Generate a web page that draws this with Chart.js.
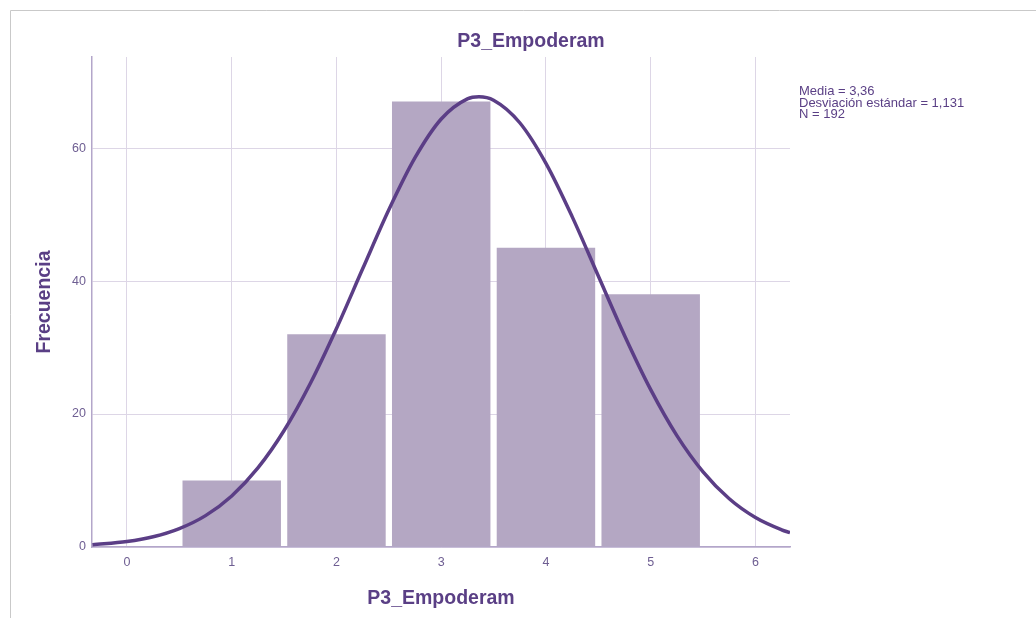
<!DOCTYPE html>
<html>
<head>
<meta charset="utf-8">
<script src="https://cdn.jsdelivr.net/npm/chart.js@4"></script>
<style>
  html, body { margin: 0; padding: 0; background: #fff; }
  #wrap { width: 1036px; height: 618px; position: relative; }
</style>
</head>
<body>
<div id="wrap"><canvas id="chart" width="1036" height="618"></canvas></div>
<script>
// histogram bins (P3_Empoderam values) and counts
const binCenters = [1, 2, 3, 4, 5];
const counts = [10, 32, 67, 45, 38];

// normal curve (Media 3,36 / DE 1,131 / N 192)
const curveX = [-0.33, 0, 0.25, 0.5, 0.75, 1, 1.25, 1.5, 1.75, 2, 2.25, 2.5, 2.75, 3, 3.25, 3.36,
  3.5, 3.75, 4, 4.25, 4.5, 4.75, 5, 5.25, 5.5, 5.75, 6, 6.25, 6.33];
const curveY = [0.33, 0.82, 1.54, 2.77, 4.72, 7.68, 11.89, 17.52, 24.59, 32.86, 41.84, 50.72, 58.55, 64.37, 67.40, 67.72,
  67.20, 63.81, 57.70, 49.69, 40.75, 31.82, 23.67, 16.76, 11.31, 7.26, 4.44, 2.59, 2.15];

const statsLines = ['Media = 3,36', 'Desviación estándar = 1,131', 'N = 192'];
const titleText = 'P3_Empoderam';

const purple = '#5a3f85';
const tickColor = '#6e5e92';
const font = 'Liberation Sans, Arial, sans-serif';

const extras = {
  id: 'extras',
  beforeDraw(chart) {
    const { ctx } = chart;
    ctx.save();
    ctx.strokeStyle = '#c9c9c9';
    ctx.lineWidth = 1;
    ctx.beginPath();
    ctx.moveTo(10.5, 618);
    ctx.lineTo(10.5, 10.5);
    ctx.lineTo(1036, 10.5);
    ctx.stroke();
    ctx.restore();
  },
  afterDraw(chart) {
    const { ctx } = chart;
    ctx.save();
    ctx.fillStyle = purple;
    ctx.textAlign = 'center';
    ctx.textBaseline = 'middle';
    ctx.font = 'bold 19.5px ' + font;
    ctx.fillText(titleText, 531, 42);

    ctx.textAlign = 'left';
    ctx.textBaseline = 'alphabetic';
    ctx.font = '13px ' + font;
    statsLines.forEach((t, i) => ctx.fillText(t, 799, 95 + i * 11.5));
    ctx.restore();
  },
};

const ctx = document.getElementById('chart');
new Chart(ctx, {
  type: 'bar',
  data: {
    datasets: [
      {
        type: 'line',
        data: curveX.map((x, i) => ({ x, y: curveY[i] })),
        borderColor: '#5b3e86',
        borderWidth: 3.5,
        pointRadius: 0,
        cubicInterpolationMode: 'monotone',
        fill: false,
        order: 0,
      },
      {
        type: 'bar',
        data: binCenters.map((x, i) => ({ x, y: counts[i] })),
        backgroundColor: '#b4a7c3',
        borderWidth: 0,
        barPercentage: 0.94,
        categoryPercentage: 1,
        order: 1,
      },
    ],
  },
  options: {
    responsive: false,
    animation: false,
    layout: {
      padding: { top: 57, right: 246, left: 0, bottom: 0 },
    },
    scales: {
      x: {
        type: 'linear',
        min: -0.334,
        max: 6.33,
        offset: false,
        border: { color: '#b3a6ca', width: 1.5 },
        grid: { color: '#ddd6e6', drawTicks: false, offset: false },
        ticks: {
          stepSize: 1,
          includeBounds: false,
          padding: 8,
          color: tickColor,
          font: { family: font, size: 12.5 },
        },
        title: {
          display: true,
          text: titleText,
          color: purple,
          font: { family: font, size: 19.5, weight: 'bold' },
          padding: { top: 0, bottom: 8 },
        },
        afterFit: (scale) => { scale.height = 71; },
      },
      y: {
        min: 0,
        max: 73.7,
        border: { color: '#b3a6ca', width: 1.5 },
        grid: { color: '#ddd6e6', drawTicks: false },
        ticks: {
          stepSize: 20,
          includeBounds: false,
          padding: 6,
          color: tickColor,
          font: { family: font, size: 12.5 },
        },
        title: {
          display: true,
          text: 'Frecuencia',
          color: purple,
          font: { family: font, size: 19.5, weight: 'bold' },
          padding: { top: 33, bottom: 0 },
        },
        afterFit: (scale) => { scale.width = 92; },
      },
    },
    plugins: {
      legend: { display: false },
      tooltip: { enabled: false },
      title: { display: false },
    },
  },
  plugins: [extras],
});
</script>
</body>
</html>
